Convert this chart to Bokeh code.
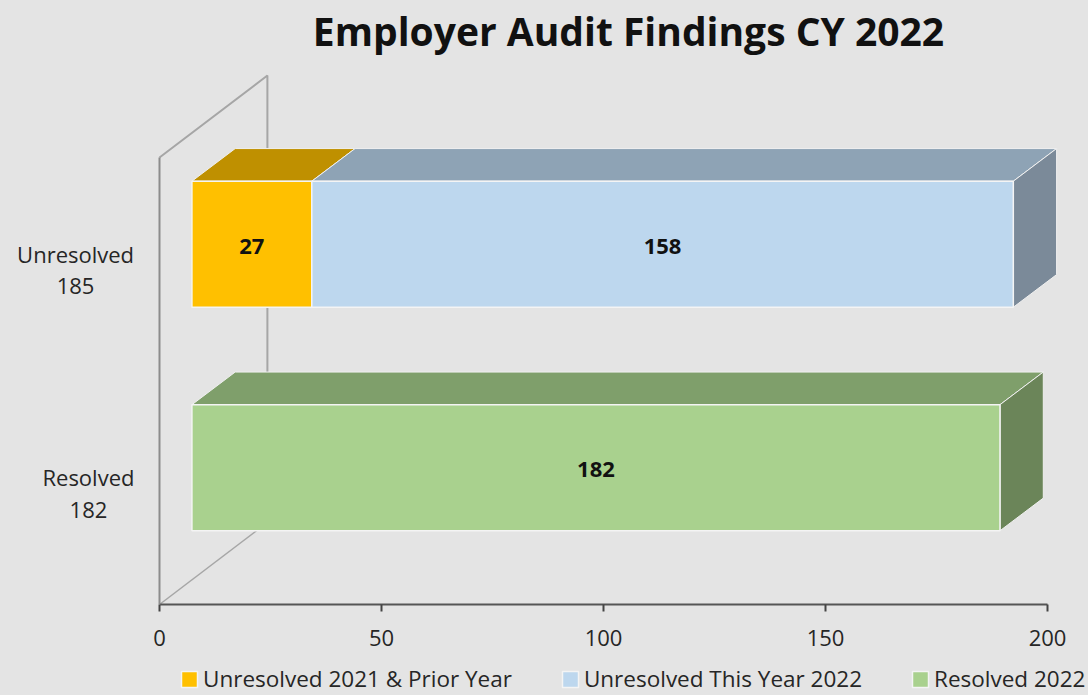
from bokeh.plotting import figure
from bokeh.embed import file_html
from bokeh.resources import INLINE
from bokeh.models import Legend, LegendItem, Range1d, FixedTicker
from bokeh.core.properties import value

title_text = "Employer Audit Findings CY 2022"
categories = ["Resolved", "Unresolved"]
totals = [182, 185]
prior = [0, 27]
this_year = [0, 158]
resolved = [182, 0]
x_ticks = [0, 50, 100, 150, 200]
legend_labels = ["Unresolved 2021 & Prior Year", "Unresolved This Year 2022", "Resolved 2022"]

BG = "#e4e4e4"
WALL_X, WALL_Y = 24.3, 0.367     # depth of the 3D wall in data units
OFF_X, OFF_Y = 7.3, 0.112        # bars' offset into the depth
DEP_X, DEP_Y = 9.75, 0.146       # bars' own depth
BAR_H = 0.564
W, H = 1088, 695
PX_X, PX_Y = 4.44, 223.5         # pixels per data unit
AX_L, AX_B = 159, 604            # axis origin, in pixels
LABEL_X = [-16.0, -18.9]
TITLE_X, TITLE_Y = 628, 30       # title centre, in pixels

p = figure(width=W, height=H, output_backend="svg", toolbar_location=None,
           x_range=Range1d(-AX_L / PX_X, (W - AX_L) / PX_X),
           y_range=Range1d(-0.5 - (H - AX_B) / PX_Y, -0.5 + AX_B / PX_Y),
           background_fill_color=BG, border_fill_color=BG, outline_line_color=None,
           min_border_left=0, min_border_right=0, min_border_top=0, min_border_bottom=0)
p.grid.visible = False

# 3D wall
wall = "#a6a6a6"
p.line([0, WALL_X, WALL_X], [1.5, 1.5 + WALL_Y, -0.5 + WALL_Y], line_color=wall, line_width=2)
p.line([0, WALL_X], [-0.5, -0.5 + WALL_Y], line_color=wall, line_width=1.5)

def box(left, right, yc, front, top, side, side_on=True):
    x0, x1 = left + OFF_X, right + OFF_X
    y0, y1 = yc - BAR_H / 2 + OFF_Y, yc + BAR_H / 2 + OFF_Y
    p.patch([x0, x0 + DEP_X, x1 + DEP_X, x1], [y1, y1 + DEP_Y, y1 + DEP_Y, y1],
            fill_color=top, line_color="#f0f0f0", line_width=1)
    if side_on:
        p.patch([x1, x1 + DEP_X, x1 + DEP_X, x1], [y0, y0 + DEP_Y, y1 + DEP_Y, y1],
                fill_color=side, line_color="#f0f0f0", line_width=1)
    return p.quad(left=x0, right=x1, bottom=y0, top=y1, fill_color=front,
                  line_color="#f4f4f4", line_width=1.5)

r_prior = box(0, prior[1], 1, "#ffc000", "#bf9000", "#bf9000", side_on=False)
r_blue = box(prior[1], prior[1] + this_year[1], 1, "#bdd7ee", "#8ea3b5", "#7b8a99")
r_green = box(0, resolved[0], 0, "#a9d18e", "#7f9f6b", "#6b8559")

# value labels
lab_x = [prior[1] / 2 + OFF_X, prior[1] + this_year[1] / 2 + OFF_X, resolved[0] / 2 + OFF_X]
lab_y = [1 + OFF_Y - 0.008, 1 + OFF_Y - 0.008, 0 + OFF_Y - 0.006]
p.text(lab_x, lab_y, text=[str(prior[1]), str(this_year[1]), str(resolved[0])],
       text_font=value("Open Sans"), text_font_style="bold", text_font_size="22px",
       text_align="center", text_baseline="middle", text_color="#111111")

# category labels, centred on two lines
p.text(LABEL_X, [0, 1], text=[f"{c}\n{t}" for c, t in zip(categories, totals)],
       text_font=value("Open Sans"), text_font_size="22px", text_color="#262626",
       text_align="center", text_baseline="middle", text_line_height=1.05)

# title
p.text([(TITLE_X - AX_L) / PX_X], [-0.5 + (AX_B - TITLE_Y) / PX_Y], text=[title_text],
       text_font=value("Open Sans"), text_font_style="bold", text_font_size="39px",
       text_align="center", text_baseline="middle", text_color="#111111")

# axes
xa = p.xaxis[0]
xa.fixed_location = -0.5
xa.bounds = (0, 200)
xa.ticker = FixedTicker(ticks=x_ticks)
xa.axis_line_color = "#555555"; xa.axis_line_width = 2
xa.major_tick_line_color = "#444444"; xa.major_tick_line_width = 2
xa.major_tick_in = 0; xa.major_tick_out = 7; xa.minor_tick_line_color = None
xa.major_label_text_font = "Open Sans"; xa.major_label_text_font_size = "22px"
xa.major_label_text_color = "#262626"; xa.major_label_standoff = 18

ya = p.yaxis[0]
ya.fixed_location = 0
ya.ticker = FixedTicker(ticks=[])
ya.bounds = (-0.5, 1.5)
ya.axis_line_color = "#8c8c8c"; ya.axis_line_width = 2
ya.major_tick_line_color = None; ya.minor_tick_line_color = None

# legend
items = [LegendItem(label=l, renderers=[r]) for l, r in zip(legend_labels, [r_prior, r_blue, r_green])]
leg = Legend(items=items, orientation="horizontal", location=(179, 1), background_fill_alpha=0,
             border_line_color=None, label_text_font="Open Sans", label_text_font_size="22.5px",
             label_text_color="#262626", glyph_width=20, glyph_height=20, spacing=48,
             label_standoff=4, margin=0, padding=0)
p.add_layout(leg)

html = file_html(p, INLINE)
html = html.replace("<head>", f"<head><style>html,body{{background:{BG};}}</style>", 1)
open("out.html", "w").write(html)
